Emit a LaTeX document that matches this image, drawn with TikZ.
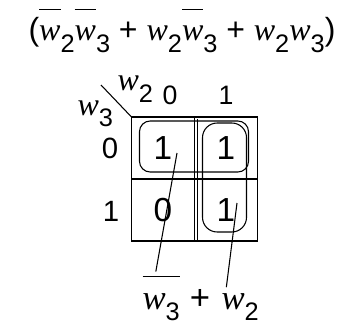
\documentclass[tikz,border=0pt]{standalone}
\usepackage{fontspec}
\setmainfont{Liberation Sans}
\newfontfamily\wfont{Liberation Serif}
\usetikzlibrary{positioning,calc}
\newcommand{\vw}{{\wfont\itshape w}}
\newcommand{\sbd}[1]{\raisebox{-8.5pt}{\fontsize{19}{19}\selectfont #1}}
\newcommand{\ovw}[1]{\vbox{\hrule height .7pt\vskip 12pt\hbox{#1}}}
\tikzset{cell/.style={draw,outer sep=0pt,inner sep=0pt,minimum width=47.25pt,
    minimum height=46.5pt,font=\fontsize{25}{25}\selectfont},
  hdr/.style={inner sep=0pt,font=\fontsize{20}{20}\selectfont},
  rowlbl/.style={inner sep=0pt,font=\fontsize{22}{22}\selectfont},
  var/.style={inner sep=0pt,anchor=base west,font=\fontsize{24}{24}\selectfont},
  res/.style={var,font=\fontsize{26}{26}\selectfont},
  grp/.style={draw,line width=.8pt},
  lead/.style={line width=.8pt}}
\begin{document}
\begin{tikzpicture}[x=.75pt,y=-.75pt,line width=.8pt]
\useasboundingbox (0,0) rectangle (363,324);
\node[var,anchor=base] (eq) at (182,41)
  {(\ovw{\vw}\sbd{2}\ovw{\vw}\sbd{3} + \vw\sbd{2}\ovw{\vw}\sbd{3} + \vw\sbd{2}\vw\sbd{3})};
% map cells
\node[cell] (c00) at (163,148) {1};
\node[cell,right=0pt of c00] (c01) {1};
\node[cell,below=0pt of c00] (c10) {0};
\node[cell,right=0pt of c10] (c11) {1};
\draw[line width=.6pt] (197.5,119) -- (197.5,241);
% headers
\coordinate (dg) at (101,85);
\draw (dg) -- (c00.north west);
\node[var] (w2) at (117,91) {\vw\sbd{2}};
\node[var] (w3) at (77,115) {\vw\sbd{3}};
\node[hdr] (k0) at (170,95) {0};
\node[hdr] (k1) at (226,95) {1};
\node[rowlbl] (r0) at (110,148) {0};
\node[rowlbl] (r1) at (111,211) {1};
% groups
\draw[grp,rounded corners=8pt] ($(c00.north west)+(8,4)$) rectangle ($(c01.south east)+(-9,-7)$);
\draw[grp,rounded corners=11pt] ($(c01.north west)+(8,6)$) rectangle ($(c11.south east)+(-11,-9)$);
% result
\node[res] (nw3) at (142,309) {\ovw{\vw\sbd{3}}};
\node[res,anchor=base] (pl) at (200,309) {+};
\node[res] (nw2) at (221,309) {\vw\sbd{2}};
\coordinate (s1) at (177,153);
\coordinate (s2) at (237,203);
\draw[lead] (s1) -- ([xshift=-4pt,yshift=3pt]nw3.north);
\draw[lead] (s2) -- ([xshift=4pt,yshift=4pt]nw2.north west);
\end{tikzpicture}
\end{document}
